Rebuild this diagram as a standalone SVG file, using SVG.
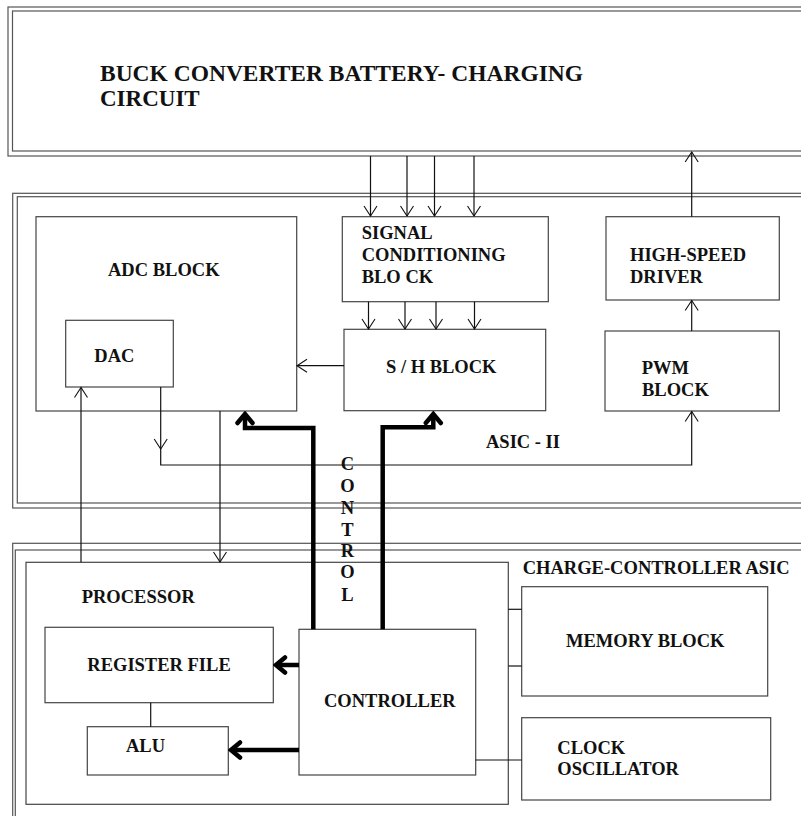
<svg xmlns="http://www.w3.org/2000/svg" width="801" height="816" viewBox="0 0 801 816">
<defs>
<style>
.frame{fill:none;stroke:#555;stroke-width:1.2}
.box{fill:#fff;stroke:#444;stroke-width:1.2}
.t{font-family:"Liberation Serif","Times New Roman",serif;font-weight:bold;font-size:18.5px;fill:#111}
.title{font-size:23px}
.ln{fill:none;stroke:#111;stroke-width:1.2}
.thick{fill:none;stroke:#000;stroke-width:4.5;stroke-linejoin:miter}
</style>
<marker id="thin" viewBox="-12 -8 14 16" markerWidth="14" markerHeight="16" refX="0" refY="0" orient="auto" markerUnits="userSpaceOnUse">
<path d="M-10,-6.5 L0,0 L-10,6.5" fill="none" stroke="#111" stroke-width="1.1"/>
</marker>
<marker id="thick" viewBox="-13 -11 16 22" markerWidth="16" markerHeight="22" refX="0" refY="0" orient="auto" markerUnits="userSpaceOnUse">
<path d="M-9,-7.5 L0,0 L-9,7.5" fill="none" stroke="#000" stroke-width="4.5" stroke-linecap="round"/>
</marker>
</defs>
<rect width="801" height="816" fill="#fff"/>

<g id="buck-converter">
<rect class="frame" x="8" y="7" width="820" height="149"/>
<rect class="frame" x="12.5" y="11" width="820" height="140"/>
<text class="t title" x="100" y="81" textLength="483" lengthAdjust="spacingAndGlyphs">BUCK CONVERTER BATTERY- CHARGING</text>
<text class="t title" x="100" y="106">CIRCUIT</text>
</g>

<g id="asic-ii">
<rect class="frame" x="12.7" y="193.3" width="820" height="314.7"/>
<rect class="frame" x="17.3" y="196.7" width="820" height="306.3"/>
<text class="t" x="486" y="448.3">ASIC - II</text>
</g>

<g id="charge-controller-asic">
<rect class="frame" x="12.7" y="543.3" width="820" height="300"/>
<rect class="frame" x="15.3" y="550" width="820" height="300"/>
<text class="t" x="522.7" y="574" textLength="267" lengthAdjust="spacingAndGlyphs">CHARGE-CONTROLLER ASIC</text>
</g>

<g id="adc-block">
<rect class="box" x="36" y="216.7" width="260.7" height="194.3"/>
<text class="t" x="108" y="276">ADC BLOCK</text>
</g>
<g id="dac">
<rect class="box" x="65.7" y="320.3" width="107.6" height="66.7"/>
<text class="t" x="94.3" y="361.7">DAC</text>
</g>
<g id="signal-conditioning">
<rect class="box" x="342.3" y="216.7" width="206" height="85"/>
<text class="t" x="361.7" y="239.3">SIGNAL</text>
<text class="t" x="361.7" y="261">CONDITIONING</text>
<text class="t" x="361.7" y="283.3">BLO CK</text>
</g>
<g id="sh-block">
<rect class="box" x="344" y="329.3" width="201.7" height="81.4"/>
<text class="t" x="386" y="372.7">S / H BLOCK</text>
</g>
<g id="high-speed-driver">
<rect class="box" x="606" y="216.7" width="173.3" height="83.3"/>
<text class="t" x="630" y="261">HIGH-SPEED</text>
<text class="t" x="630" y="282.7">DRIVER</text>
</g>
<g id="pwm-block">
<rect class="box" x="605" y="331" width="174.3" height="80"/>
<text class="t" x="641.7" y="374.3">PWM</text>
<text class="t" x="642" y="396">BLOCK</text>
</g>

<g id="processor">
<rect class="box" x="26" y="562.3" width="482.3" height="242"/>
<text class="t" x="81.7" y="603.3">PROCESSOR</text>
</g>
<g id="register-file">
<rect class="box" x="45" y="627.3" width="228.3" height="75.4"/>
<text class="t" x="87.3" y="671">REGISTER FILE</text>
</g>
<g id="alu">
<rect class="box" x="87.3" y="726.7" width="141" height="48.3"/>
<text class="t" x="126" y="752.3">ALU</text>
</g>
<g id="controller">
<rect class="box" x="299" y="629.3" width="176.7" height="145.7"/>
<text class="t" x="324" y="706.7">CONTROLLER</text>
</g>
<g id="memory-block">
<rect class="box" x="521.7" y="586.7" width="246" height="109.3"/>
<text class="t" x="566" y="646.7">MEMORY BLOCK</text>
</g>
<g id="clock-oscillator">
<rect class="box" x="521.7" y="717.7" width="249" height="82.3"/>
<text class="t" x="557.3" y="754">CLOCK</text>
<text class="t" x="557.3" y="775">OSCILLATOR</text>
</g>

<g id="connectors">
<path class="ln" d="M370.5,156 V216" marker-end="url(#thin)"/>
<path class="ln" d="M407,156 V216" marker-end="url(#thin)"/>
<path class="ln" d="M434.5,156 V216" marker-end="url(#thin)"/>
<path class="ln" d="M474,156 V216" marker-end="url(#thin)"/>
<path class="ln" d="M368.5,301.7 V329" marker-end="url(#thin)"/>
<path class="ln" d="M405,301.7 V329" marker-end="url(#thin)"/>
<path class="ln" d="M436,301.7 V329" marker-end="url(#thin)"/>
<path class="ln" d="M474.5,301.7 V329" marker-end="url(#thin)"/>
<path class="ln" d="M344,365.7 H297" marker-end="url(#thin)"/>
<path class="ln" d="M691.7,216.7 V152" marker-end="url(#thin)"/>
<path class="ln" d="M691.7,331 V300.5" marker-end="url(#thin)"/>
<path class="ln" d="M160.7,387 V449" marker-end="url(#thin)"/>
<path class="ln" d="M160.7,449 V465 H691.7 V411.5" marker-end="url(#thin)"/>
<path class="ln" d="M81,562.3 V387.5" marker-end="url(#thin)"/>
<path class="ln" d="M220,411 V562" marker-end="url(#thin)"/>
<path class="ln" d="M508.3,609.3 H521.7"/>
<path class="ln" d="M508.3,666 H521.7"/>
<path class="ln" d="M475.7,760 H521.7"/>
<path class="ln" d="M150.7,702.7 V726.7"/>
<path class="thick" d="M313.3,629.3 V428 H245 V414" marker-end="url(#thick)"/>
<path class="thick" d="M382.7,629.3 V427.3 H433.3 V414" marker-end="url(#thick)"/>
<path class="thick" d="M299,665 H276" marker-end="url(#thick)"/>
<path class="thick" d="M299,750 H231" marker-end="url(#thick)"/>
<text class="t" text-anchor="middle" x="347.5" y="470">C</text>
<text class="t" text-anchor="middle" x="347.5" y="491.7">O</text>
<text class="t" text-anchor="middle" x="347.5" y="514">N</text>
<text class="t" text-anchor="middle" x="347.5" y="536">T</text>
<text class="t" text-anchor="middle" x="347.5" y="556.7">R</text>
<text class="t" text-anchor="middle" x="347.5" y="578.3">O</text>
<text class="t" text-anchor="middle" x="347.5" y="600.7">L</text>
</g>
</svg>
